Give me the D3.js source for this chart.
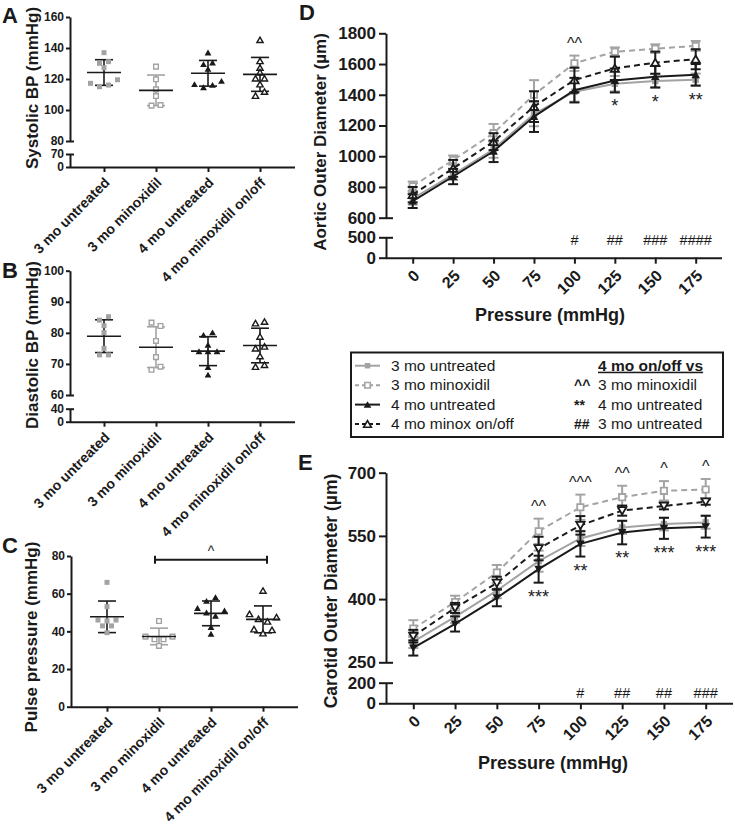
<!DOCTYPE html>
<html><head><meta charset="utf-8">
<script src="https://cdn.jsdelivr.net/npm/d3@7"></script>
<style>body{margin:0;background:#fff}svg{display:block}</style>
</head><body><svg id="c" width="735" height="832"></svg>
<script>
// ---------------- DATA ----------------
const groups = ["3 mo untreated", "3 mo minoxidil", "4 mo untreated", "4 mo minoxidil on/off"];

// Panel A: systolic BP (mmHg), individual animals
const sys3U = [137, 130.1, 131.2, 127.3, 117.2, 115, 116.1, 119.5];
const sys3M = [128, 119.8, 113.3, 109, 102.8, 103.2];
const sys4U = [137, 129.5, 130.5, 126.5, 116.6, 114.6, 116.1, 118.7];
const sys4O = [145.2, 131.6, 127.3, 124.3, 120.4, 120.4, 116.6, 109.2, 111.8];
const sysTicksUpper = [80, 100, 120, 140, 160];
const sysTicksLower = [0, 70];

// Panel B: diastolic BP (mmHg)
const dia3U = [84.1, 85.2, 82.3, 80.1, 75, 72.9, 72.9];
const dia3M = [83.3, 82.2, 77.4, 72.2, 68.1, 69.1];
const dia4U = [79.3, 80.1, 76.1, 74, 74, 74, 68.9, 66.5];
const dia4O = [83.1, 83.6, 78.8, 75, 75.6, 72.5, 69.1, 69.7];
const diaTicksUpper = [60, 70, 80, 90, 100];
const diaTicksLower = [0, 40];

// Panel C: pulse pressure (mmHg)
const pp3U = [66, 53.1, 46, 45.5, 46, 42.9, 42.9, 39.3];
const pp3M = [45.5, 37.2, 35.8, 35.8, 37.2, 32.3];
const pp4U = [56.1, 58.1, 52.3, 49.9, 48.2, 51, 42.2, 38.6];
const pp4O = [61.6, 49.2, 46.6, 45.2, 47.5, 41.1, 39, 40.7];
const ppTicks = [0, 20, 40, 60, 80];
const ppSigLabel = "^";

// Panels D/E: pressure steps (mmHg)
const pressures = [0, 25, 50, 75, 100, 125, 150, 175];

// Panel D: aortic outer diameter (µm), mean and SEM
const aorta3U = [725, 880, 1045, 1275, 1420, 1472, 1490, 1498];
const aorta3USem = [40, 35, 55, 80, 65, 50, 45, 40];
const aorta3M = [805, 975, 1150, 1400, 1605, 1680, 1700, 1718];
const aorta3MSem = [30, 30, 60, 95, 50, 28, 28, 32];
const aorta4U = [708, 868, 1032, 1258, 1430, 1493, 1518, 1530];
const aorta4USem = [45, 50, 70, 100, 80, 78, 70, 70];
const aorta4O = [750, 921, 1095, 1323, 1496, 1572, 1609, 1631];
const aorta4OSem = [50, 55, 55, 100, 80, 76, 72, 65];
const aortaTicksUpper = [600, 800, 1000, 1200, 1400, 1600, 1800];
const aortaTicksLower = [0, 500];
const aortaCaret = ["", "", "", "", "^^", "", "", ""];
const aortaStar = ["", "", "", "", "", "*", "*", "**"];
const aortaHash = ["", "", "", "", "#", "##", "###", "####"];

// Panel E: carotid outer diameter (µm), mean and SEM
const car3U = [299, 358, 420, 490, 544, 570, 578, 582];
const car3USem = [15, 15, 18, 25, 18, 15, 15, 15];
const car3M = [330, 393, 463, 561, 618, 642, 657, 660];
const car3MSem = [20, 15, 18, 30, 30, 27, 23, 25];
const car4U = [284, 341, 403, 471, 531, 558, 568, 572];
const car4USem = [18, 18, 20, 32, 30, 28, 25, 26];
const car4O = [312, 379, 438, 520, 575, 610, 621, 631];
const car4OSem = [15, 12, 15, 28, 22, 12, 8, 7];
const carTicksUpper = [250, 400, 550, 700];
const carTicksLower = [0, 200];
const carCaret = ["", "", "", "^^", "^^^", "^^", "^", "^"];
const carStar = ["", "", "", "***", "**", "**", "***", "***"];
const carHash = ["", "", "", "", "#", "##", "##", "###"];

// Legend
const legendLabels = ["3 mo untreated", "3 mo minoxidil", "4 mo untreated", "4 mo minox on/off"];
const legendHeader = "4 mo on/off vs";
const legendSymbols = ["^^", "**", "##"];
const legendCompare = ["3 mo minoxidil", "4 mo untreated", "3 mo untreated"];

// ---------------- DRAWING ----------------
const FONT = '"Liberation Sans", Arial, Helvetica, sans-serif';
const BLACK = '#1a1a1a', GRAY = '#a3a3a3';
const svg = d3.select('#c').attr('font-family', FONT);

const sty = [
  {shape: d3.symbolSquare, fill: GRAY, stroke: 'none', color: GRAY, dash: null},
  {shape: d3.symbolSquare, fill: '#fff', stroke: GRAY, color: GRAY, dash: '6,4'},
  {shape: d3.symbolTriangle, fill: BLACK, stroke: 'none', color: BLACK, dash: null},
  {shape: d3.symbolTriangle, fill: '#fff', stroke: BLACK, color: BLACK, dash: '6,4'}
];

function styleAxis(a, fs) {
  a.attr('font-family', FONT).attr('font-size', fs).attr('font-weight', 'bold');
  a.select('.domain').attr('stroke', BLACK).attr('stroke-width', 2);
  a.selectAll('.tick line').attr('stroke', BLACK).attr('stroke-width', 2);
  a.selectAll('.tick text').attr('fill', BLACK);
}

function yAxis(g, scale, ticks, x, fs, tl, pad, breakVal) {
  const a = g.append('g').attr('transform', `translate(${x},0)`)
    .call(d3.axisLeft(scale).tickValues(ticks).tickSize(tl).tickSizeOuter(0).tickPadding(pad).tickFormat(d3.format('d')));
  styleAxis(a, fs);
  if (breakVal !== undefined) {
    a.append('line').attr('x1', 0).attr('x2', tl).attr('y1', scale(breakVal) + 0.5).attr('y2', scale(breakVal) + 0.5)
      .attr('stroke', BLACK).attr('stroke-width', 2);
  }
  return a;
}

// bottom axis: tick marks from d3.axisBottom, labels rotated by -45°
function xAxisRot(g, scale, values, baseY, fs, dx, dy, fmt) {
  const xa = g.append('g').attr('transform', `translate(0,${baseY})`)
    .call(d3.axisBottom(scale).tickValues(values).tickSize(fs > 15 ? 6 : 5).tickSizeOuter(0).tickFormat(() => ''));
  styleAxis(xa, fs);
  xa.select('.domain').remove();
  values.forEach(v => {
    g.append('text')
      .attr('transform', `translate(${scale(v) + dx},${baseY + dy}) rotate(-45)`)
      .attr('text-anchor', 'end').attr('dy', '0.35em')
      .attr('font-size', fs).attr('font-weight', 'bold').attr('fill', BLACK)
      .text(fmt ? fmt(v) : v);
  });
}

function panelLetter(t, x, y) {
  svg.append('text').attr('x', x).attr('y', y).text(t).attr('font-size', 22).attr('font-weight', 'bold').attr('fill', BLACK);
}

function yTitle(t, x, y, fs) {
  svg.append('text').attr('transform', `translate(${x},${y}) rotate(-90)`).attr('text-anchor', 'middle')
    .attr('font-size', fs).attr('font-weight', 'bold').attr('fill', BLACK).text(t);
}

function rowOffsets(vals, yScale, thr, sp) {
  const idx = vals.map((v, i) => i).sort((a, b) => vals[b] - vals[a]);
  const rows = []; let cur = [idx[0]];
  for (let k = 1; k < idx.length; k++) {
    if (Math.abs(yScale(vals[idx[k]]) - yScale(vals[idx[k - 1]])) < thr) cur.push(idx[k]);
    else { rows.push(cur); cur = [idx[k]]; }
  }
  rows.push(cur);
  const off = new Array(vals.length).fill(0);
  rows.forEach(r => { r.sort((a, b) => a - b); r.forEach((i, j) => off[i] = (j - (r.length - 1) / 2) * sp); });
  return off;
}

function scatterPanel(c) {
  const g = svg.append('g');
  const yU = d3.scaleLinear().domain(c.upperDom).range(c.upperRange);
  const yL = c.lowerDom ? d3.scaleLinear().domain(c.lowerDom).range(c.lowerRange) : null;
  const x = d3.scalePoint().domain(groups).range(c.catRange);
  const baseY = yL ? yL(0) : yU(0);
  if (yL) {
    yAxis(g, yL, c.lowerTicks, c.axisX, 12, 4, 2, c.lowerDom[1]);
    yAxis(g, yU, c.upperTicks, c.axisX, 12, 4, 2, c.upperDom[0]);
  } else {
    yAxis(g, yU, c.upperTicks, c.axisX, 12, 4, 2);
  }
  g.append('line').attr('x1', c.axisX).attr('x2', c.axisEnd).attr('y1', baseY + 0.5).attr('y2', baseY + 0.5)
    .attr('stroke', BLACK).attr('stroke-width', 2);
  xAxisRot(g, x, groups, baseY, 14, 3, 13);
  c.data.forEach((vals, gi) => {
    const s = sty[gi];
    const cx = x(groups[gi]);
    const m = d3.mean(vals), sd = d3.deviation(vals);
    const off = rowOffsets(vals, yU, 4.2, 9);
    const lineCol = gi === 1 ? GRAY : BLACK;
    g.append('line').attr('x1', cx).attr('x2', cx).attr('y1', yU(m - sd)).attr('y2', yU(m + sd))
      .attr('stroke', lineCol).attr('stroke-width', 1.6);
    [m - sd, m + sd].forEach(v => g.append('line').attr('x1', cx - 9).attr('x2', cx + 9).attr('y1', yU(v)).attr('y2', yU(v))
      .attr('stroke', lineCol).attr('stroke-width', 1.6));
    const open = gi % 2 === 1;
    const size = s.shape === d3.symbolSquare ? (open ? 22 : 25) : (open ? 17 : 20);
    g.selectAll(null).data(vals).enter().append('path')
      .attr('d', d3.symbol().type(s.shape).size(size))
      .attr('transform', (d, i) => `translate(${cx + off[i]},${yU(d) + (s.shape === d3.symbolTriangle ? 0.8 : 0)})`)
      .attr('fill', s.fill).attr('stroke', s.stroke).attr('stroke-width', open ? 1.4 : 0);
    g.append('line').attr('x1', cx - 17).attr('x2', cx + 17).attr('y1', yU(m)).attr('y2', yU(m))
      .attr('stroke', BLACK).attr('stroke-width', 1.6);
  });
  return {g, x, yU};
}

// Panel A
panelLetter('A', 2, 23);
yTitle('Systolic BP (mmHg)', 38, 88, 17);
scatterPanel({
  upperDom: [80, 160], upperRange: [141, 17], upperTicks: sysTicksUpper,
  lowerDom: [0, 70], lowerRange: [167, 154], lowerTicks: sysTicksLower,
  catRange: [104, 260], axisX: 70, axisEnd: 295, data: [sys3U, sys3M, sys4U, sys4O]
});

// Panel B
panelLetter('B', 2, 278);
yTitle('Diastolic BP (mmHg)', 38, 345, 17);
scatterPanel({
  upperDom: [60, 100], upperRange: [395, 270.7], upperTicks: diaTicksUpper,
  lowerDom: [0, 40], lowerRange: [421.7, 408.7], lowerTicks: diaTicksLower,
  catRange: [104, 260], axisX: 70, axisEnd: 295, data: [dia3U, dia3M, dia4U, dia4O]
});

// Panel C
panelLetter('C', 2, 553);
yTitle('Pulse pressure (mmHg)', 37, 637, 17);
const pC = scatterPanel({
  upperDom: [0, 80], upperRange: [706.7, 556], upperTicks: ppTicks,
  catRange: [107, 263], axisX: 71, axisEnd: 298, data: [pp3U, pp3M, pp4U, pp4O]
});
{
  const x1 = pC.x(groups[1]) - 4, x2 = pC.x(groups[3]) + 4, yb = pC.yU(78);
  pC.g.append('line').attr('x1', x1).attr('x2', x2).attr('y1', yb).attr('y2', yb).attr('stroke', BLACK).attr('stroke-width', 2);
  [x1, x2].forEach(xx => pC.g.append('line').attr('x1', xx).attr('x2', xx).attr('y1', yb - 4).attr('y2', yb + 4).attr('stroke', BLACK).attr('stroke-width', 2));
  pC.g.append('text').attr('x', (pC.x(groups[1]) + pC.x(groups[3])) / 2).attr('y', yb - 4).attr('text-anchor', 'middle')
    .attr('font-size', 14).attr('fill', BLACK).text(ppSigLabel);
}

// Line panels
function linePanel(c) {
  const g = svg.append('g');
  const x = d3.scaleLinear().domain([0, 175]).range(c.xRange);
  const yU = d3.scaleLinear().domain(c.upperDom).range(c.upperRange);
  const yL = d3.scaleLinear().domain(c.lowerDom).range(c.lowerRange);
  const baseY = yL(0);
  yAxis(g, yL, c.lowerTicks, c.axisX, 17, 7, 3, c.lowerDom[1]);
  yAxis(g, yU, c.upperTicks, c.axisX, 17, 7, 3, c.upperDom[0]);
  g.append('line').attr('x1', c.axisX).attr('x2', c.axisEnd).attr('y1', baseY + 0.5).attr('y2', baseY + 0.5)
    .attr('stroke', BLACK).attr('stroke-width', 2);
  xAxisRot(g, x, pressures, baseY, 16, 4, 15);
  g.append('text').attr('x', c.xTitleX).attr('y', c.xTitleY).attr('text-anchor', 'middle')
    .attr('font-size', 18).attr('font-weight', 'bold').attr('fill', BLACK).text('Pressure (mmHg)');

  const order = [0, 1, 3, 2];
  order.forEach(si => {
    const s = sty[si], vals = c.series[si], sem = c.sems[si];
    const line = d3.line().x((d, i) => x(pressures[i])).y(d => yU(d));
    g.append('path').datum(vals).attr('d', line).attr('fill', 'none').attr('stroke', s.color)
      .attr('stroke-width', 2).attr('stroke-dasharray', s.dash);
    vals.forEach((v, i) => {
      const px = x(pressures[i]);
      g.append('line').attr('x1', px).attr('x2', px).attr('y1', yU(v - sem[i])).attr('y2', yU(v + sem[i]))
        .attr('stroke', s.color).attr('stroke-width', 2);
      [v - sem[i], v + sem[i]].forEach(e => g.append('line').attr('x1', px - 5).attr('x2', px + 5)
        .attr('y1', yU(e)).attr('y2', yU(e)).attr('stroke', s.color).attr('stroke-width', 2));
    });
    const open = si % 2 === 1;
    const isTri = s.shape === d3.symbolTriangle;
    const size = isTri ? (open ? 30 : 32) : (open ? 40 : 42);
    const rot = isTri && c.downTri ? 180 : 0;
    g.selectAll(null).data(vals).enter().append('path')
      .attr('d', d3.symbol().type(s.shape).size(size))
      .attr('transform', (d, i) => `translate(${x(pressures[i])},${yU(d) + (isTri ? (rot ? -1 : 1) : 0)}) rotate(${rot})`)
      .attr('fill', s.fill).attr('stroke', s.stroke).attr('stroke-width', open ? 1.8 : 0);
  });

  pressures.forEach((p, i) => {
    const px = x(p);
    const top = d3.max(c.series, (s, k) => s[i] + c.sems[k][i]);
    const bot = d3.min(c.series, (s, k) => s[i] - c.sems[k][i]);
    if (c.caret[i]) g.append('text').attr('x', px).attr('y', yU(top) - 7).attr('text-anchor', 'middle')
      .attr('font-size', 16).attr('fill', BLACK).text(c.caret[i]);
    if (c.star[i]) g.append('text').attr('x', px).attr('y', yU(bot) + 20).attr('text-anchor', 'middle')
      .attr('font-size', 18).attr('fill', BLACK).text(c.star[i]);
    if (c.hash[i]) g.append('text').attr('x', px).attr('y', yL(c.hashVal)).attr('text-anchor', 'middle')
      .attr('font-size', 14.5).attr('fill', BLACK).text(c.hash[i]);
  });
}

panelLetter('D', 299, 20);
yTitle('Aortic Outer Diameter (µm)', 326, 142, 17);
linePanel({
  xRange: [412.7, 695.7], axisX: 386, axisEnd: 722,
  upperDom: [600, 1800], upperRange: [217.7, 33.3], upperTicks: aortaTicksUpper,
  lowerDom: [0, 500], lowerRange: [257.7, 237.3], lowerTicks: aortaTicksLower,
  series: [aorta3U, aorta3M, aorta4U, aorta4O], sems: [aorta3USem, aorta3MSem, aorta4USem, aorta4OSem],
  caret: aortaCaret, star: aortaStar, hash: aortaHash, hashVal: 300,
  xTitleX: 550, xTitleY: 321, downTri: false
});

panelLetter('E', 298, 470);
yTitle('Carotid Outer Diameter (µm)', 337, 591, 17.5);
linePanel({
  xRange: [413.3, 705.7], axisX: 386, axisEnd: 733,
  upperDom: [250, 700], upperRange: [662.3, 472.7], upperTicks: carTicksUpper,
  lowerDom: [0, 200], lowerRange: [703.3, 682.7], lowerTicks: carTicksLower,
  series: [car3U, car3M, car4U, car4O], sems: [car3USem, car3MSem, car4USem, car4OSem],
  caret: carCaret, star: carStar, hash: carHash, hashVal: 50,
  xTitleX: 553, xTitleY: 769, downTri: true
});

// Legend
{
  const lg = svg.append('g');
  lg.append('rect').attr('x', 351).attr('y', 352.5).attr('width', 372).attr('height', 84.5)
    .attr('fill', '#fff').attr('stroke', BLACK).attr('stroke-width', 2);
  const rowY = [370.7, 390.2, 409.6, 429];
  legendLabels.forEach((t, i) => {
    const s = sty[i], yy = rowY[i] - 5;
    lg.append('line').attr('x1', 355).attr('x2', 380).attr('y1', yy).attr('y2', yy)
      .attr('stroke', s.color).attr('stroke-width', 2).attr('stroke-dasharray', s.dash ? '4,3' : null);
    const open = i % 2 === 1;
    lg.append('path').attr('d', d3.symbol().type(s.shape).size(s.shape === d3.symbolTriangle ? 26 : 30))
      .attr('transform', `translate(367.5,${yy + (s.shape === d3.symbolTriangle ? 1 : 0)})`)
      .attr('fill', s.fill).attr('stroke', s.stroke).attr('stroke-width', open ? 1.6 : 0);
    lg.append('text').attr('x', 391).attr('y', rowY[i]).attr('font-size', 15.5).attr('fill', BLACK).text(t);
  });
  lg.append('text').attr('x', 598).attr('y', rowY[0]).attr('font-size', 15.5).attr('font-weight', 'bold')
    .attr('text-decoration', 'underline').attr('fill', BLACK).text(legendHeader);
  legendSymbols.forEach((sy, i) => {
    lg.append('text').attr('x', 574).attr('y', rowY[i + 1]).attr('font-size', 14).attr('font-weight', 'bold')
      .attr('fill', BLACK).text(sy);
    lg.append('text').attr('x', 598).attr('y', rowY[i + 1]).attr('font-size', 15.5).attr('fill', BLACK).text(legendCompare[i]);
  });
}
</script></body></html>
